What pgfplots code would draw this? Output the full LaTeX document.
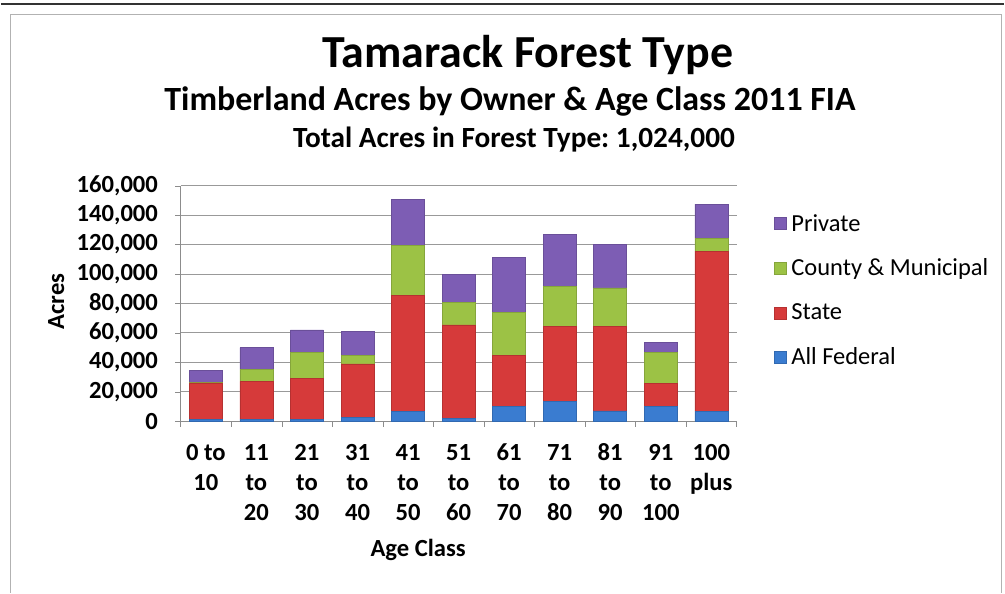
\documentclass[border=0pt]{standalone}
\usepackage{pgfplots}
\pgfplotsset{compat=1.18}
\usepackage{fontspec}
\setmainfont{Carlito}
\frenchspacing
\newcommand\ticklinefont{\fontsize{18.5}{22.5}\selectfont\bfseries\lineskiplimit=-30pt\relax}
\definecolor{cfed}{RGB}{58,124,208}
\definecolor{cstate}{RGB}{214,58,58}
\definecolor{ccounty}{RGB}{156,194,69}
\definecolor{cpriv}{RGB}{125,93,180}
\begin{document}
\begin{tikzpicture}
\path (0pt,0pt) rectangle (753.75pt,-445.5pt);
\draw[black!80, line width=1.4pt] (0pt,-3pt) -- (753.75pt,-3pt);
\draw[black!30, line width=0.7pt] (7.5pt,-445.5pt) -- (7.5pt,-10.5pt) -- (752pt,-10.5pt) -- (752pt,-445.5pt);
\node[anchor=base, font=\fontsize{34.5}{40}\selectfont\bfseries] at (396pt,-51pt) {Tamarack Forest Type};
\node[anchor=base, font=\fontsize{25.5}{30}\selectfont\bfseries] at (382.5pt,-83.25pt) {Timberland Acres by Owner \& Age Class 2011 FIA};
\node[anchor=base, font=\fontsize{22}{26}\selectfont\bfseries] at (385.5pt,-111pt) {Total Acres in Forest Type: 1,024,000};
\node[anchor=base, rotate=90, font=\fontsize{18.5}{22}\selectfont\bfseries] at (47.5pt,-226.5pt) {Acres};
\node[anchor=base, font=\fontsize{18.5}{22}\selectfont\bfseries] at (313.5pt,-418.5pt) {Age Class};
\begin{axis}[
  scale only axis, width=417.75pt, height=177pt,
  at={(135pt,-316.5pt)}, anchor=south west,
  ybar stacked, bar width=24.75pt,
  xmin=-0.5, xmax=10.5, ymin=0, ymax=160000,
  xtick={0,1,2,3,4,5,6,7,8,9,10},
  xticklabels={{\strut 0 to\\\strut 10},{\strut 11\\\strut to\\\strut 20},{\strut 21\\\strut to\\\strut 30},{\strut 31\\\strut to\\\strut 40},{\strut 41\\\strut to\\\strut 50},{\strut 51\\\strut to\\\strut 60},{\strut 61\\\strut to\\\strut 70},{\strut 71\\\strut to\\\strut 80},{\strut 81\\\strut to\\\strut 90},{\strut 91\\\strut to\\\strut 100},{\strut 100\\\strut plus}},
  xticklabel style={align=center, anchor=north, yshift=-6pt, font=\ticklinefont},
  major x tick style={draw=none},
  minor xtick={-0.5,0.5,...,10.5},
  minor x tick style={black!45},
  ytick={0,20000,...,160000},
  ymajorgrids, grid style={black!40, line width=0.6pt},
  yticklabel style={xshift=-9.5pt, font=\fontsize{18.5}{22}\selectfont\bfseries},
  scaled y ticks=false,
  /pgf/number format/fixed,
  /pgf/number format/1000 sep={,},
  /pgf/number format/assume math mode=true,
  axis x line*=bottom, axis y line*=left,
  axis line style={-, black!45, line width=0.6pt},
  y tick style={black!45},
  tick align=outside, major tick length=4pt, minor tick length=4pt,
  legend style={at={(1.066,0.88)}, anchor=north west, draw=none, fill=none,
    font=\fontsize{18.4}{22}\selectfont, row sep=19.5pt, inner sep=0pt,
    nodes={inner xsep=4pt, inner ysep=0pt}},
  legend cell align=left,
  reverse legend,
  legend image code/.code={\draw[#1] (0pt,-4.5pt) rectangle (9pt,4.5pt);},
]
\addplot[fill=cfed, draw=cfed!85!black] coordinates {(0,1500) (1,1500) (2,1500) (3,2500) (4,6500) (5,2000) (6,10000) (7,13500) (8,7000) (9,10000) (10,6500)};
\addplot[fill=cstate, draw=cstate!85!black] coordinates {(0,24500) (1,25500) (2,27500) (3,36500) (4,79000) (5,63500) (6,34500) (7,51000) (8,57500) (9,15500) (10,109000)};
\addplot[fill=ccounty, draw=ccounty!85!black] coordinates {(0,500) (1,8000) (2,18000) (3,5500) (4,34000) (5,15000) (6,29500) (7,27000) (8,26000) (9,21000) (10,8500)};
\addplot[fill=cpriv, draw=cpriv!85!black] coordinates {(0,8000) (1,15000) (2,15000) (3,16500) (4,31000) (5,19000) (6,37500) (7,35500) (8,29500) (9,7000) (10,23500)};
\legend{All Federal, State, County \& Municipal, Private}
\end{axis}
\end{tikzpicture}
\end{document}
